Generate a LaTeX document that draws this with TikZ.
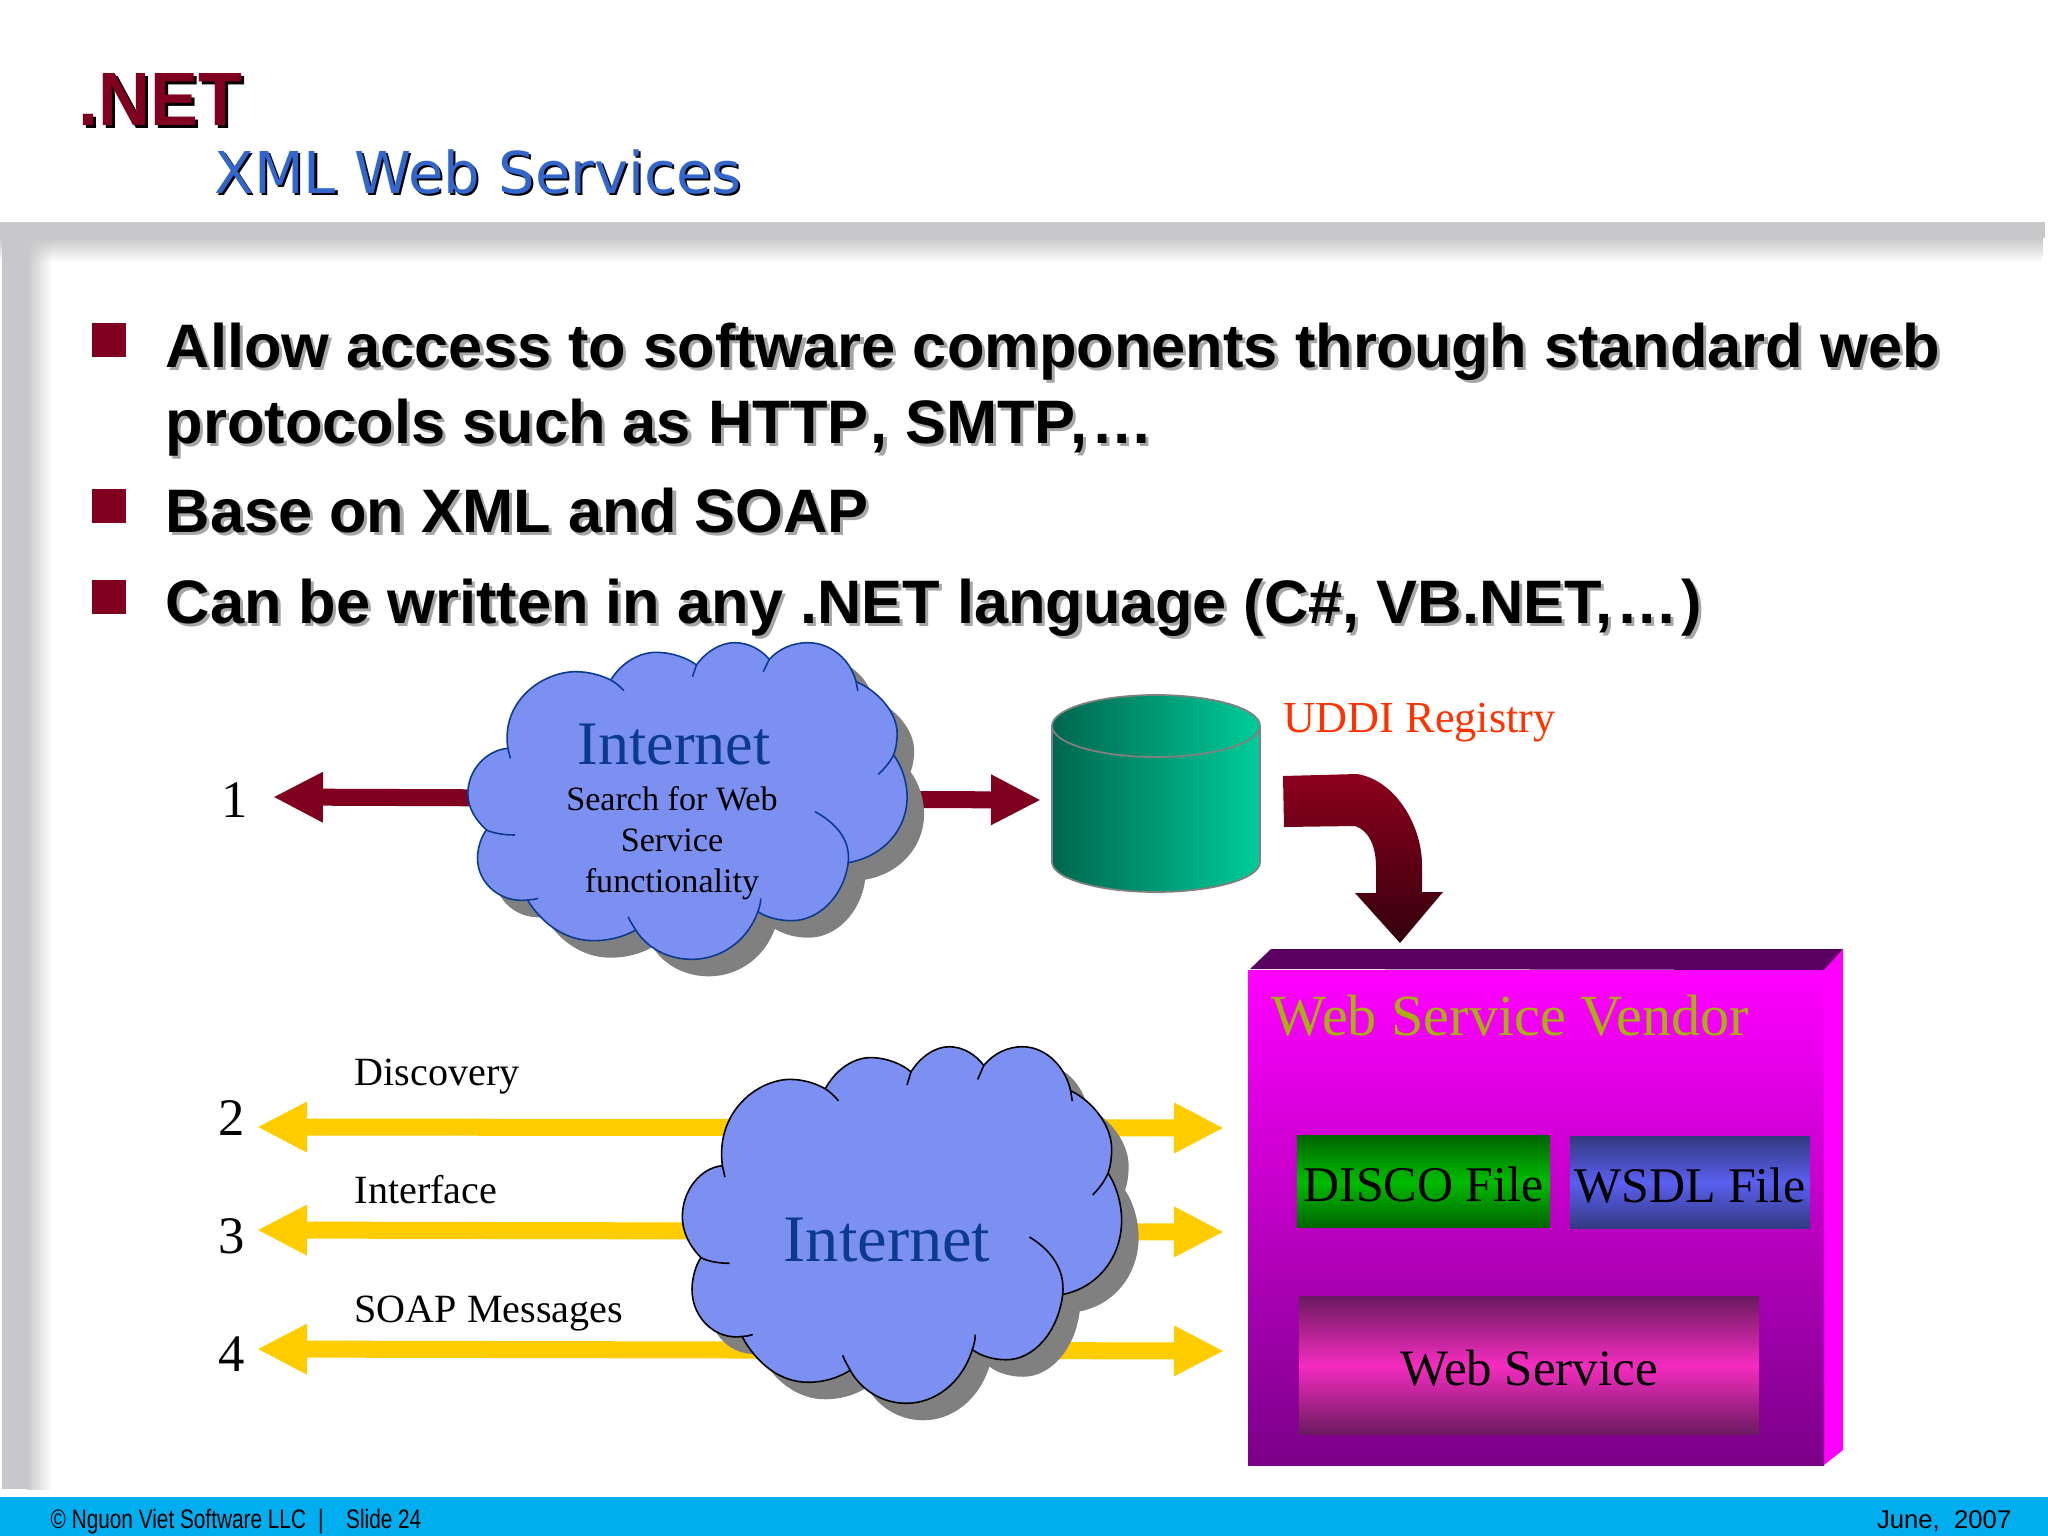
\documentclass[tikz,border=0pt]{standalone}
\usepackage{xcolor}
\usepackage{fontspec}
\usetikzlibrary{arrows.meta}
\usetikzlibrary{fadings}
\setmainfont{Liberation Serif}
\newfontfamily\arialfont{Liberation Sans}
\newfontfamily\verdanafont{DejaVu Sans}
\definecolor{wine}{HTML}{800020}
\definecolor{cloudblue}{HTML}{7B90F0}
\definecolor{inkblue}{HTML}{0B3A8F}
\definecolor{titleblue}{HTML}{3366CC}
\definecolor{arrowgold}{HTML}{FFCC00}
\definecolor{barcyan}{HTML}{00AEEF}
\definecolor{bandgray}{HTML}{C8C8CA}
\definecolor{uddired}{HTML}{FF3300}
\definecolor{vendorpink}{HTML}{FF00FF}
\definecolor{vendorpurple}{HTML}{7A0088}
\definecolor{vendorroof}{HTML}{5A0060}
\definecolor{vendorolive}{HTML}{A8B010}
\definecolor{drumdark}{HTML}{00664F}
\definecolor{drumlight}{HTML}{00CC99}
\definecolor{discodark}{HTML}{006600}
\definecolor{discolight}{HTML}{00BB00}
\definecolor{wsdldark}{HTML}{333A80}
\definecolor{wsdllight}{HTML}{5A5FF0}
\definecolor{servicedark}{HTML}{6B1A60}
\definecolor{servicelight}{HTML}{F52CC0}
% text with a copy behind it, shifted
\newcommand{\dropshadow}[3]{\leavevmode\rlap{\kern#2\raisebox{-#2}{\color{#1}#3}}#3}
\newcommand{\cloudoutline}{(190,385) .. controls (170,240) and (290,155) .. (380,155) .. controls (415,155) and (450,165) .. (478,180)
	.. controls (510,125) and (560,97) .. (605,97) .. controls (650,97) and (695,115) .. (718,135)
	.. controls (745,95) and (785,68) .. (825,68) .. controls (865,68) and (900,90) .. (922,118)
	.. controls (950,85) and (990,68) .. (1030,68) .. controls (1095,68) and (1150,120) .. (1165,185)
	.. controls (1230,215) and (1280,280) .. (1280,340) .. controls (1280,365) and (1277,385) .. (1270,405)
	.. controls (1295,440) and (1308,490) .. (1308,530) .. controls (1308,630) and (1240,710) .. (1143,728)
	.. controls (1130,830) and (1060,902) .. (985,902) .. controls (950,902) and (915,893) .. (890,875)
	.. controls (860,965) and (785,1018) .. (705,1018) .. controls (640,1018) and (580,985) .. (548,930)
	.. controls (515,950) and (475,962) .. (430,962) .. controls (350,962) and (285,910) .. (245,840)
	.. controls (170,850) and (105,790) .. (105,715) .. controls (105,685) and (115,650) .. (130,630)
	.. controls (100,600) and (78,565) .. (78,520) .. controls (78,450) and (130,390) .. (190,385) -- cycle}
\newcommand{\internetcloud}[5]{
	\begin{scope}[shift={(#1+17,#2+17)},xscale=#3/2.8,yscale=#4/3,shift={(-693,-543)}]
		\fill[gray] \cloudoutline;
	\end{scope}
	\begin{scope}[shift={(#1,#2)},xscale=#3/2.8,yscale=#4/3,shift={(-693,-543)}]
		\filldraw[fill=cloudblue,draw=#5,line width=0.45pt] \cloudoutline;
		\draw[#5,line width=0.45pt] (478,180) .. controls (490,187) and (505,200) .. (515,212)
		(718,135) -- (707,170) (922,118) -- (905,155) (1165,185) -- (1170,213)
		(1270,405) .. controls (1258,430) and (1245,445) .. (1227,463)
		(1143,728) .. controls (1150,660) and (1110,610) .. (1050,575)
		(890,875) .. controls (895,860) and (898,850) .. (898,835)
		(548,930) .. controls (540,915) and (532,905) .. (527,890)
		(245,840) .. controls (255,840) and (265,838) .. (275,835)
		(130,630) .. controls (150,640) and (180,645) .. (210,645)
		(190,385) -- (197,415);
	\end{scope}
}
\begin{document}
\begin{tikzpicture}[x=0.01cm,y=-0.01cm,
	serif node/.style={inner sep=0pt,anchor=base},
	bullet text/.style={inner sep=0pt,anchor=base west,font=\arialfont\bfseries\fontsize{17.46pt}{20pt}\selectfont},
	bullet mark/.style={fill=wine,inner sep=0pt,minimum width=0.34cm,minimum height=0.34cm},
	label node/.style={inner sep=0pt,anchor=base west,font=\fontsize{11.4pt}{14pt}\selectfont},
	number node/.style={inner sep=0pt,font=\fontsize{15pt}{18pt}\selectfont},
	wine arrow/.style={wine,line width=0.17cm,{Triangle[length=0.5cm,width=0.47cm]}-{Triangle[length=0.5cm,width=0.47cm]}},
	gold arrow/.style={arrowgold,line width=0.17cm,{Triangle[length=0.5cm,width=0.47cm]}-{Triangle[length=0.5cm,width=0.47cm]}},
	file box/.style={inner sep=0pt,minimum height=0.91cm,text height=0.39cm,text depth=0pt,font=\fontsize{14.2pt}{16pt}\selectfont}]
			% Page
			\useasboundingbox (0,0) rectangle (2048,1536);
			\fill[white] (0,0) rectangle (2048,1536);
			\fill[bandgray] (2,238) rectangle (27,1489);
			\shade[left color=bandgray,right color=white] (27,238) rectangle (52,1489);
			\fill[bandgray] (0,222) rectangle (2045,238);
			\fill[bandgray,path fading=south] (0,238) rectangle (2045,262);
			\fill[barcyan] (0,1497) rectangle (2048,1536);
			\node[inner sep=0pt,anchor=base west,font=\arialfont\fontsize{7.6pt}{8pt}\selectfont] (copyright) at (50,1528) {\addfontfeature{FakeStretch=0.778}© Nguon Viet Software LLC\hspace{0.45em}|\hspace{0.85em}Slide 24};
			\node[inner sep=0pt,anchor=base east,font=\arialfont\fontsize{7.3pt}{8pt}\selectfont] (date) at (2012,1528) {June,\hspace{0.56em}2007};
			
			% Title
			\node[inner sep=0pt,anchor=base west,text=wine,font=\arialfont\bfseries\fontsize{21.5pt}{22pt}\selectfont] (title) at (78,125) {\addfontfeature{FakeStretch=0.95}\dropshadow{black}{0.9pt}{.NET}};
			\node[inner sep=0pt,anchor=base west,text=titleblue,font=\verdanafont\fontsize{16.4pt}{18pt}\selectfont] (subtitle) at (214,193) {\dropshadow{black}{0.6pt}{XML Web Services}};
			
			% Bullets
			\node[bullet mark] (mark1) at (109,340) {};
			\node[bullet mark] (mark2) at (109,506) {};
			\node[bullet mark] (mark3) at (109,597) {};
			\node[bullet text] (line1) at (165,367) {\dropshadow{gray!70}{0.9pt}{Allow access to software components through standard web}};
			\node[bullet text] (line2) at (165,443) {\dropshadow{gray!70}{0.9pt}{protocols such as HTTP\kern0.7pt, SMTP\kern-1.5pt,\kern1.1pt…\kern1.1pt}};
			\node[bullet text] (line3) at (165,532) {\dropshadow{gray!70}{0.9pt}{Base on XML and SOAP}};
			\node[bullet text] (line4) at (165,623) {\dropshadow{gray!70}{0.9pt}{Can be written in any .NET language (C\#, VB.NET,\kern1.1pt…\kern1.1pt)}};
			
			% Arrows behind the clouds
			\coordinate (left1) at (273,797);
			\coordinate (right1) at (1041,800);
			\coordinate (left2) at (257,1127);
			\coordinate (right2) at (1224,1128);
			\coordinate (left3) at (257,1230);
			\coordinate (right3) at (1224,1232);
			\coordinate (left4) at (257,1349);
			\coordinate (right4) at (1224,1351);
			\path (left1) edge[wine arrow] (right1);
			\path (left2) edge[gold arrow] (right2);
			\path (left3) edge[gold arrow] (right3);
			\path (left4) edge[gold arrow] (right4);
			
			\internetcloud{687.5}{801}{1}{1}{inkblue}
			\internetcloud{902}{1225}{1}{1.126}{black}
			
			% Cloud text
			\node[serif node,text=inkblue,font=\fontsize{17.6pt}{20pt}\selectfont] (internet1) at (674,764) {Internet};
			\node[serif node,font=\fontsize{9.7pt}{11pt}\selectfont] (search) at (672,810) {Search for Web};
			\node[serif node,font=\fontsize{9.7pt}{11pt}\selectfont] (service) at (672,851) {Service};
			\node[serif node,font=\fontsize{9.7pt}{11pt}\selectfont] (functionality) at (672,892) {functionality};
			\node[serif node,text=inkblue,font=\fontsize{18.9pt}{21pt}\selectfont] (internet2) at (887,1261) {Internet};
			
			% Numbers and labels
			\node[number node] (1) at (235,800) {1};
			\node[number node] (2) at (232,1118) {2};
			\node[number node] (3) at (232,1236) {3};
			\node[number node] (4) at (232,1354) {4};
			\node[label node] (discovery) at (354,1085) {Discovery};
			\node[label node] (interface) at (354,1203) {Interface};
			\node[label node] (soap) at (354,1322) {SOAP Messages};
			
			% Registry
			\draw[gray,line width=0.5pt,left color=drumdark,right color=drumlight] (1052,726) -- (1052,862) arc[start angle=180,end angle=0,x radius=104,y radius=30] -- (1260,726) arc[start angle=0,end angle=-180,x radius=104,y radius=31] -- cycle;
			\draw[gray,line width=0.5pt] (1052,726) arc[start angle=180,end angle=0,x radius=104,y radius=31];
			\node[inner sep=0pt,anchor=base west,text=uddired,font=\fontsize{12.6pt}{14pt}\selectfont] (uddi) at (1283,732) {UDDI Registry};
			\shade[top color=wine!90!red,bottom color=wine!40!black] (1283,776) -- (1357,774) .. controls (1395,780) and (1422,825) .. (1422,865) -- (1422,892) -- (1443,892) -- (1400,943) -- (1355,893) -- (1376,893) -- (1376,867) .. controls (1376,845) and (1368,830) .. (1355,826) -- (1284,827) -- cycle;
			
			% Vendor box
			\fill[vendorroof] (1250,969) -- (1271,949) -- (1843,949) -- (1827,970) -- cycle;
			\fill[vendorpink] (1824,970) -- (1843,949) -- (1843,1450) -- (1824,1465) -- cycle;
			\shade[top color=vendorpink,bottom color=vendorpurple] (1248,970) rectangle (1824,1465);
			\node[serif node,anchor=base west,text=vendorolive,font=\fontsize{16.55pt}{18pt}\selectfont] (vendor) at (1271,1035) {Web Service Vendor};
			\node[file box,minimum width=2.53cm,top color=discodark,bottom color=discodark,middle color=discolight] (disco) at (1423.5,1181.5) {DISCO File};
			\node[file box,minimum width=2.4cm,top color=wsdldark,bottom color=wsdldark,middle color=wsdllight] (wsdl) at (1690,1182.5) {WSDL File};
			\node[file box,minimum width=4.6cm,minimum height=1.37cm,top color=servicedark,bottom color=servicedark,middle color=servicelight,font=\fontsize{14.5pt}{18pt}\selectfont] (webservice) at (1529,1365.5) {Web Service};
		\end{tikzpicture}
\end{document}
